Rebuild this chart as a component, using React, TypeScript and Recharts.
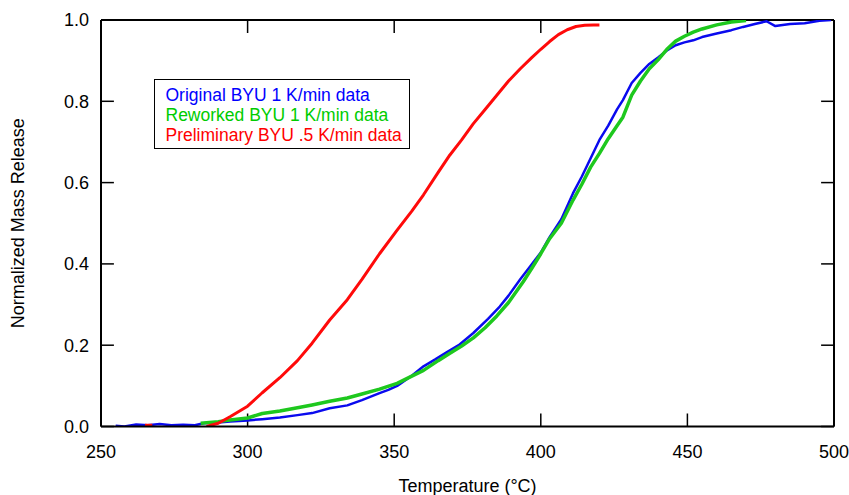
import { LineChart, Line, XAxis, YAxis, Legend, ReferenceLine } from 'recharts';

const FONT = '"Liberation Sans", Arial, sans-serif';

// Original BYU 1 K/min (blue)
const origTemp = [
  255, 258, 262, 266, 270, 274, 278, 282, 285, 290, 294, 300, 305, 311, 317, 322,
  328, 334, 339, 345, 348, 351, 356, 360, 364, 368, 372, 377, 382, 386, 389, 393,
  397, 400, 403, 407, 411, 414, 417, 420, 423, 426, 428, 431, 434, 437, 440, 443,
  446, 449, 452, 455, 460, 465, 469, 473, 477, 480, 485, 490, 495, 499,
];
const origMass = [
  0.002, 0.0, 0.005, 0.003, 0.006, 0.003, 0.004, 0.003, 0.008, 0.01, 0.012, 0.015, 0.018, 0.022, 0.028, 0.033,
  0.045, 0.052, 0.065, 0.082, 0.09, 0.1, 0.125, 0.148, 0.165, 0.183, 0.2, 0.23, 0.265, 0.295, 0.322, 0.362,
  0.4, 0.428, 0.466, 0.51, 0.574, 0.615, 0.66, 0.705, 0.74, 0.78, 0.803, 0.845, 0.87, 0.892, 0.908, 0.925,
  0.938, 0.945, 0.95, 0.958, 0.967, 0.975, 0.983, 0.99, 0.997, 0.985, 0.99, 0.992, 0.998, 1.0,
];

// Reworked BYU 1 K/min (green)
const reworkTemp = [
  284, 290, 294, 300, 305, 311, 317, 322, 328, 334, 339, 345, 351, 356, 360, 365,
  369, 373, 377, 381, 385, 389, 394, 397, 400, 403, 407, 411, 414, 417, 420, 423,
  426, 428, 431, 434, 437, 440, 443, 446, 449, 452, 455, 460, 465, 470,
];
const reworkMass = [
  0.008, 0.012, 0.016, 0.021, 0.032, 0.038, 0.046, 0.053, 0.062, 0.07, 0.08, 0.092, 0.106, 0.124, 0.138, 0.162,
  0.18, 0.198, 0.218, 0.243, 0.272, 0.305, 0.356, 0.39, 0.425, 0.462, 0.5, 0.557, 0.596, 0.638, 0.672, 0.708,
  0.74, 0.761, 0.815, 0.85, 0.88, 0.902, 0.928, 0.948, 0.96, 0.97, 0.978, 0.988, 0.995, 0.999,
];

// Preliminary BYU .5 K/min (red)
const prelimTemp = [
  265, 267.5, 276, 286, 290, 294, 300, 305, 311, 317, 322, 328, 334, 339, 345, 351,
  356, 360, 365, 369, 373, 377, 381, 385, 389, 393, 397, 400, 403, 406, 409, 412,
  415, 418, 420,
];
const prelimMass = [
  0.003, 0.003, null, 0.0, 0.008, 0.024, 0.05, 0.083, 0.12, 0.162, 0.205, 0.262, 0.312, 0.362, 0.425, 0.483,
  0.53, 0.57, 0.625, 0.668, 0.705, 0.745, 0.78, 0.815, 0.85, 0.88, 0.908, 0.928, 0.947, 0.964, 0.976, 0.984,
  0.987, 0.988, 0.988,
];

const xTicks = [250, 300, 350, 400, 450, 500];
const yTicks = [0, 0.2, 0.4, 0.6, 0.8, 1.0];
const X_MIN = 250, X_MAX = 500, Y_MIN = 0, Y_MAX = 1;

// inward tick length, in data units (~13px)
const X_TICK_LEN = 4.4;
const Y_TICK_LEN = 0.032;

const toPoints = (t: number[], v: (number | null)[]) => t.map((x, i) => ({ t: x, v: v[i] }));

const series = [
  { name: 'Original BYU 1 K/min data', color: '#0a0aee', text: '#0000ff', width: 2.5, data: toPoints(origTemp, origMass) },
  { name: 'Reworked BYU 1 K/min data', color: '#1ec81e', text: '#00cc00', width: 3.5, data: toPoints(reworkTemp, reworkMass) },
  { name: 'Preliminary BYU .5 K/min data', color: '#ff0a0a', text: '#ff0000', width: 3, data: toPoints(prelimTemp, prelimMass) },
];

function LegendBox() {
  return (
    <div
      style={{
        boxSizing: 'border-box',
        width: 256,
        height: 70,
        border: '1.5px solid #000',
        background: '#fff',
        padding: '5px 0 0 10.5px',
        fontFamily: FONT,
        fontSize: 17.5,
        lineHeight: '20px',
        whiteSpace: 'nowrap',
      }}
    >
      {series.map((s) => (
        <div key={s.name} style={{ color: s.text }}>
          {s.name}
        </div>
      ))}
    </div>
  );
}

const tickStyle = { fill: '#000', fontSize: 18, fontFamily: FONT };
const axisLine = { stroke: '#000', strokeWidth: 2 };
const tickRef = { stroke: '#000', strokeWidth: 1.5, ifOverflow: 'visible' as const };

export default function App() {
  return (
    <div style={{ position: 'absolute', left: 0, top: 0, width: 849, height: 495, background: '#fff' }}>
      <LineChart width={849} height={495} margin={{ top: 20, right: 15, bottom: 0, left: 0 }}>
        <XAxis
          dataKey="t"
          type="number"
          domain={[X_MIN, X_MAX]}
          ticks={xTicks}
          interval={0}
          allowDataOverflow
          height={68.5}
          tickLine={false}
          tickMargin={13}
          tick={tickStyle}
          axisLine={axisLine}
          label={{
            value: 'Temperature (°C)',
            position: 'insideBottom',
            offset: 3,
            style: { fill: '#000', fontSize: 18, fontFamily: FONT },
          }}
        />
        <YAxis
          type="number"
          domain={[Y_MIN, Y_MAX]}
          ticks={yTicks}
          interval={0}
          allowDataOverflow
          width={101}
          tickLine={false}
          tickMargin={6}
          tickFormatter={(v: number) => v.toFixed(1)}
          tick={tickStyle}
          axisLine={axisLine}
          label={{
            value: 'Normalized Mass Release',
            angle: -90,
            position: 'insideLeft',
            offset: 18,
            style: { textAnchor: 'middle', fill: '#000', fontSize: 18, fontFamily: FONT },
          }}
        />

        {/* frame: top and right edges */}
        <ReferenceLine y={Y_MAX} stroke="#000" strokeWidth={2} ifOverflow="visible" />
        <ReferenceLine x={X_MAX} stroke="#000" strokeWidth={2} ifOverflow="visible" />

        {/* inward ticks on all four sides */}
        {xTicks.map((t) => (
          <ReferenceLine key={`b${t}`} segment={[{ x: t, y: Y_MIN }, { x: t, y: Y_MIN + Y_TICK_LEN }]} {...tickRef} />
        ))}
        {xTicks.map((t) => (
          <ReferenceLine key={`t${t}`} segment={[{ x: t, y: Y_MAX }, { x: t, y: Y_MAX - Y_TICK_LEN }]} {...tickRef} />
        ))}
        {yTicks.map((v) => (
          <ReferenceLine key={`l${v}`} segment={[{ x: X_MIN, y: v }, { x: X_MIN + X_TICK_LEN, y: v }]} {...tickRef} />
        ))}
        {yTicks.map((v) => (
          <ReferenceLine key={`r${v}`} segment={[{ x: X_MAX, y: v }, { x: X_MAX - X_TICK_LEN, y: v }]} {...tickRef} />
        ))}

        <Legend
          layout="vertical"
          align="center"
          verticalAlign="middle"
          content={<LegendBox />}
          wrapperStyle={{ left: 154, top: 79, width: 256 }}
        />
        {series.map((s) => (
          <Line
            key={s.name}
            data={s.data}
            dataKey="v"
            name={s.name}
            type="linear"
            stroke={s.color}
            strokeWidth={s.width}
            strokeLinejoin="round"
            dot={false}
            activeDot={false}
            connectNulls={false}
            isAnimationActive={false}
          />
        ))}
      </LineChart>
    </div>
  );
}
